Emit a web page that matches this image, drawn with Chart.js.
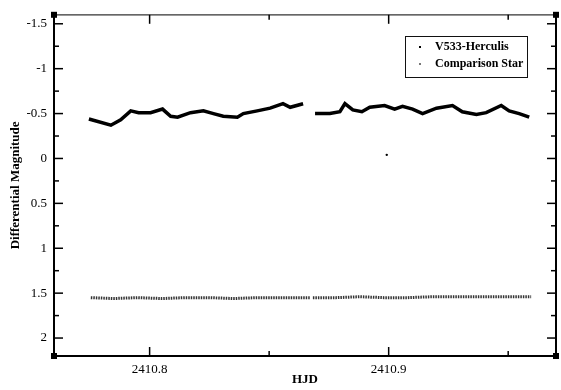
<!DOCTYPE html>
<html>
<head>
<meta charset="utf-8">
<script src="https://cdn.jsdelivr.net/npm/chart.js@4"></script>
<style>
  html, body { margin: 0; padding: 0; background: #fff; }
  #wrap { width: 561px; height: 390px; }
</style>
</head>
<body>
<div id="wrap"><canvas id="lc" width="561" height="390"></canvas></div>
<script>
// values
const v533HjdA = [2410.7746, 2410.7838, 2410.7879, 2410.7921, 2410.7954, 2410.8004, 2410.8054, 2410.8088, 2410.8117, 2410.8171, 2410.8225, 2410.8267, 2410.8308, 2410.8367, 2410.8392, 2410.8450, 2410.8504, 2410.8558, 2410.8588, 2410.8642]
const v533MagA = [-0.44, -0.37, -0.43, -0.53, -0.51, -0.51, -0.55, -0.47, -0.46, -0.51, -0.53, -0.50, -0.47, -0.46, -0.50, -0.53, -0.56, -0.61, -0.57, -0.61]
const v533HjdB = [2410.8692, 2410.8754, 2410.8796, 2410.8817, 2410.8850, 2410.8888, 2410.8921, 2410.8983, 2410.9025, 2410.9058, 2410.9100, 2410.9142, 2410.9200, 2410.9267, 2410.9308, 2410.9367, 2410.9408, 2410.9471, 2410.9504, 2410.9546, 2410.9588]
const v533MagB = [-0.50, -0.50, -0.52, -0.61, -0.54, -0.52, -0.57, -0.59, -0.55, -0.58, -0.55, -0.50, -0.56, -0.59, -0.52, -0.49, -0.51, -0.59, -0.53, -0.50, -0.46]

const compHjdA = [2410.7754, 2410.7850, 2410.7950, 2410.8050, 2410.8150, 2410.8250, 2410.8350, 2410.8450, 2410.8550, 2410.8671]
const compMagA = [1.55, 1.56, 1.55, 1.56, 1.55, 1.55, 1.56, 1.55, 1.55, 1.55]
const compHjdB = [2410.8683, 2410.8780, 2410.8880, 2410.8980, 2410.9080, 2410.9180, 2410.9280, 2410.9380, 2410.9480, 2410.9596]
const compMagB = [1.55, 1.55, 1.54, 1.55, 1.55, 1.54, 1.54, 1.54, 1.54, 1.54]

const strayHjd = [2410.8992]
const strayMag = [-0.04]

const xTicks = [2410.8, 2410.9]
const xMinor = [2410.75, 2410.85, 2410.95]
const yTicks = [-1.5, -1, -0.5, 0, 0.5, 1, 1.5, 2]
const yMinor = [-1.25, -0.75, -0.25, 0.25, 0.75, 1.25, 1.75]

const seriesNames = ['V533-Herculis', 'Comparison Star']

function pts(xs, ys) {
    return xs.map((x, i) => ({x: x, y: ys[i]}))
}
function joinGap(a, b) {
    return [...a, {x: (a[a.length - 1].x + b[0].x) / 2, y: null}, ...b]
}

const serif = "'Liberation Serif', 'DejaVu Serif', serif"

const frame = {
    id: 'frame',
    afterDraw(chart) {
        const ctx = chart.ctx
        const a = chart.chartArea
        const xs = chart.scales.x
        const ys = chart.scales.y
        ctx.save()
        // top border is lighter in the scan
        ctx.lineWidth = 1.2
        ctx.strokeStyle = '#333'
        ctx.beginPath(); ctx.moveTo(a.left, a.top); ctx.lineTo(a.right, a.top); ctx.stroke()
        ctx.strokeStyle = '#000'
        ctx.lineWidth = 2
        ctx.beginPath()
        ctx.moveTo(a.right, a.top); ctx.lineTo(a.right, a.bottom)
        ctx.lineTo(a.left, a.bottom); ctx.lineTo(a.left, a.top)
        ctx.stroke()

        ctx.lineWidth = 1.5
        const tick = (x1, y1, x2, y2) => { ctx.beginPath(); ctx.moveTo(x1, y1); ctx.lineTo(x2, y2); ctx.stroke() }
        yTicks.forEach(v => { const y = ys.getPixelForValue(v); tick(a.left, y, a.left + 9, y); tick(a.right, y, a.right - 9, y) })
        yMinor.forEach(v => { const y = ys.getPixelForValue(v); tick(a.left, y, a.left + 5, y); tick(a.right, y, a.right - 5, y) })
        xTicks.forEach(v => { const x = xs.getPixelForValue(v); tick(x, a.bottom, x, a.bottom - 9); tick(x, a.top, x, a.top + 9) })
        xMinor.forEach(v => {
            const x = xs.getPixelForValue(v)
            if (x < a.left || x > a.right) return
            tick(x, a.bottom, x, a.bottom - 5); tick(x, a.top, x, a.top + 5)
        })

        // corner squares
        ctx.fillStyle = '#000'
        ;[[a.left, a.top], [a.right, a.top], [a.left, a.bottom], [a.right, a.bottom]].forEach(p => {
            ctx.fillRect(p[0] - 3, p[1] - 3, 6, 6)
        })

        // legend box
        const lx = 405, ly = 36, lw = 122, lh = 41
        ctx.lineWidth = 1
        ctx.strokeStyle = '#111'
        ctx.strokeRect(lx + 0.5, ly + 0.5, lw, lh)
        ctx.font = 'bold 12px ' + serif
        ctx.textBaseline = 'middle'
        ctx.textAlign = 'left'
        ctx.fillStyle = '#000'
        ctx.fillText(seriesNames[0], 435, 47)
        ctx.fillText(seriesNames[1], 435, 64)
        ctx.fillRect(419, 46, 2, 2)
        ctx.fillStyle = '#777'
        ctx.fillRect(419, 63, 2, 2)
        ctx.restore()
    }
}

new Chart(document.getElementById('lc'), {
    type: 'line',
    data: {
        datasets: [
            {
                label: seriesNames[0],
                data: joinGap(pts(v533HjdA, v533MagA), pts(v533HjdB, v533MagB)),
                borderColor: '#000',
                borderWidth: 3.5,
                pointRadius: 0,
                tension: 0,
                spanGaps: false
            },
            {
                label: seriesNames[1],
                data: joinGap(pts(compHjdA, compMagA), pts(compHjdB, compMagB)),
                borderColor: '#333',
                borderWidth: 3,
                borderDash: [1.5, 1],
                pointRadius: 0,
                tension: 0,
                spanGaps: false
            },
            {
                label: 'stray',
                data: pts(strayHjd, strayMag),
                showLine: false,
                pointRadius: 1.2,
                pointBackgroundColor: '#000',
                pointBorderWidth: 0
            }
        ]
    },
    options: {
        responsive: false,
        animation: false,
        layout: { padding: { left: 0, right: 5, top: 12, bottom: 0 } },
        plugins: { legend: { display: false }, tooltip: { enabled: false } },
        scales: {
            x: {
                type: 'linear',
                min: 2410.76,
                max: 2410.97,
                grid: { display: false, drawTicks: false },
                border: { display: false },
                afterBuildTicks: s => { s.ticks = xTicks.map(v => ({value: v})) },
                afterFit: s => { s.height = 34 },
                ticks: {
                    padding: 6,
                    color: '#000',
                    font: { family: serif, size: 13 },
                    callback: v => v.toFixed(1)
                },
                title: {
                    display: true,
                    text: 'HJD',
                    color: '#000',
                    font: { family: serif, size: 13, weight: 'bold' },
                    padding: { top: 0, bottom: 3 }
                }
            },
            y: {
                type: 'linear',
                reverse: true,
                min: -1.6,
                max: 2.2,
                grid: { display: false, drawTicks: false },
                border: { display: false },
                afterBuildTicks: s => { s.ticks = yTicks.map(v => ({value: v})) },
                afterFit: s => { s.width = 54 },
                ticks: {
                    padding: 7,
                    color: '#000',
                    font: { family: serif, size: 13 },
                    callback: v => String(v)
                },
                title: {
                    display: true,
                    text: 'Differential Magnitude',
                    color: '#000',
                    font: { family: serif, size: 13, weight: 'bold' },
                    padding: { top: 8, bottom: 0 }
                }
            }
        }
    },
    plugins: [frame]
})
</script>
</body>
</html>
